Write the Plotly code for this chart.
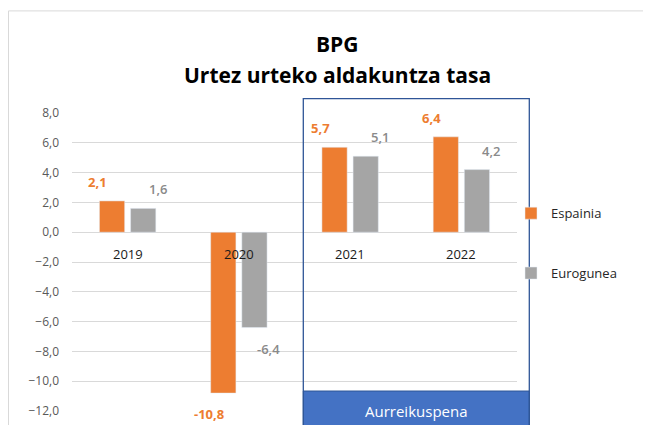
import plotly.graph_objects as go

categories = ["2019", "2020", "2021", "2022"]
espainia = [2.1, -10.8, 5.7, 6.4]
eurogunea = [1.6, -6.4, 5.1, 4.2]
series_names = ["Espainia", "Eurogunea"]
y_ticks = [8, 6, 4, 2, 0, -2, -4, -6, -8, -10, -12]
title_main = "BPG"
title_sub = "Urtez urteko aldakuntza tasa"
forecast_label = "Aurreikuspena"

ORANGE = "#ED7D31"
GRAY = "#A5A5A5"
FONT = "Open Sans"

# page is offset by body margin of 8px
OFF = 8
W, H = 651 - OFF, 425 - OFF
L, R = 72 - OFF, 517 - OFF
T, B = 112.7 - OFF, 411 - OFF

def px_x(x):  # x in page pixels
    return (x - OFF - L) / (R - L)

def px_y(y):  # y in page pixels
    return (B - (y - OFF)) / (B - T)

fig = go.Figure()
fig.add_trace(go.Bar(x=categories, y=espainia, name=series_names[0],
                     marker=dict(color=ORANGE), legendgroup="a"))
fig.add_trace(go.Bar(x=categories, y=eurogunea, name=series_names[1],
                     marker=dict(color=GRAY), legendgroup="b"))

annotations = []
for i, c in enumerate(categories):
    for vals, off, lab_col, wt in ((espainia, -0.27, ORANGE, "bold"), (eurogunea, 0.27, "#8A8A8A", 600)):
        v = vals[i]
        annotations.append(dict(
            x=i + off, y=v, xref="x", yref="y", text=f"{v:.1f}".replace(".", ","),
            showarrow=False, xanchor="center", yanchor="middle",
            yshift=19 if v >= 0 else -21,
            font=dict(family=FONT, size=13, color=lab_col, weight=wt),
        ))
    annotations.append(dict(x=i, y=0, xref="x", yref="y", text=c, showarrow=False,
                            xanchor="center", yanchor="middle", yshift=-22,
                            font=dict(family=FONT, size=13, color="#1a1a1a")))

annotations.append(dict(x=px_x(337), y=px_y(44), xref="paper", yref="paper", text=title_main,
                        showarrow=False, xanchor="center", yanchor="middle",
                        font=dict(family=FONT, size=21, color="#000000", weight="bold")))
annotations.append(dict(x=px_x(337), y=px_y(75), xref="paper", yref="paper", text=title_sub,
                        showarrow=False, xanchor="center", yanchor="middle",
                        font=dict(family=FONT, size=21, color="#000000", weight="bold")))
annotations.append(dict(x=px_x(416.3), y=px_y(410.5), xref="paper", yref="paper", text=forecast_label,
                        showarrow=False, xanchor="center", yanchor="middle",
                        font=dict(family=FONT, size=15, color="#FFFFFF")))

shapes = [
    # chart border: top and left edges only (rest lies outside the picture)
    dict(type="line", xref="paper", yref="paper", x0=px_x(8.5), x1=px_x(660), y0=px_y(10.5), y1=px_y(10.5),
         line=dict(color="#D9D9D9", width=1), layer="below"),
    dict(type="line", xref="paper", yref="paper", x0=px_x(8.5), x1=px_x(8.5), y0=px_y(10.5), y1=px_y(440),
         line=dict(color="#D9D9D9", width=1), layer="below"),
    # forecast band and box
    dict(type="rect", xref="paper", yref="paper", x0=px_x(303.3), x1=px_x(529.3), y0=px_y(440), y1=px_y(391),
         line=dict(color="#2F5597", width=1), fillcolor="#4472C4", layer="above"),
    dict(type="rect", xref="paper", yref="paper", x0=px_x(303.3), x1=px_x(529.3), y0=px_y(440), y1=px_y(98.3),
         line=dict(color="#2F5597", width=1.3), fillcolor="rgba(0,0,0,0)", layer="above"),
]

fig.update_layout(
    width=W, height=H,
    margin=dict(l=L, r=W - R, t=T, b=H - B, autoexpand=False),
    paper_bgcolor="white", plot_bgcolor="white",
    barmode="group", bargap=0.44, bargroupgap=0.19,
    separators=", ",
    showlegend=True,
    legend=dict(x=px_x(511), y=px_y(198), xanchor="left", yanchor="top",
                font=dict(family=FONT, size=13, color="#262626"),
                tracegroupgap=40, itemwidth=30, bgcolor="rgba(0,0,0,0)"),
    annotations=annotations,
    shapes=shapes,
    xaxis=dict(showticklabels=False, showgrid=False, zeroline=False, showline=False, ticks=""),
    yaxis=dict(range=[-12, 8], tickvals=y_ticks, tickformat=".1f",
               showgrid=True, gridcolor="#D9D9D9", gridwidth=1,
               zeroline=True, zerolinecolor="#D9D9D9", zerolinewidth=1,
               showline=False, ticks="", ticklabelstandoff=12,
               tickfont=dict(family=FONT, size=12, color="#595959")),
)
for tr in fig.data:
    tr.cliponaxis = False

fig.write_html("out.html")
